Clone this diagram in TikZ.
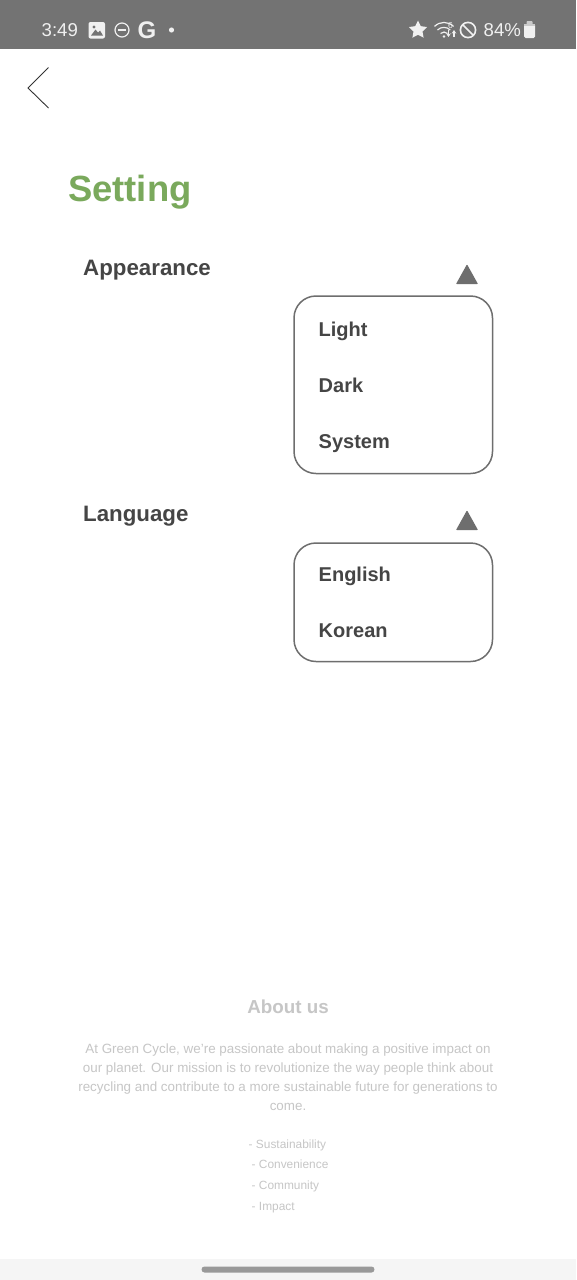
\documentclass[tikz,border=0pt]{standalone}
\usepackage{fontspec}
\setmainfont{Liberation Sans}
\usepackage{xcolor}
\usetikzlibrary{positioning, shapes.geometric, calc, arrows.meta}
\definecolor{barGrey}{HTML}{737373}
\definecolor{barText}{HTML}{F0F0F0}
\definecolor{leafGreen}{HTML}{7AA95C}
\definecolor{darkText}{HTML}{454545}
\definecolor{boxGrey}{HTML}{6E6E6E}
\definecolor{softText}{HTML}{C6C6C6}
\definecolor{navGrey}{HTML}{F5F5F5}
\tikzset{
    headlabel/.style={anchor=base west, inner sep=0pt, text=darkText, font=\fontsize{22.3}{27}\selectfont\bfseries},
    itemlabel/.style={anchor=base west, inner sep=0pt, text=darkText, font=\fontsize{20}{24}\selectfont\bfseries},
    menubox/.style={draw=boxGrey, line width=1.5pt, rounded corners=22pt, fill=white},
    uptriangle/.style={fill=boxGrey, draw=boxGrey, line width=1.2pt, line join=round},
    aboutline/.style={anchor=base, inner sep=0pt, text=softText, font=\fontsize{13.4}{17}\selectfont},
    pointline/.style={anchor=base west, inner sep=0pt, text=softText, font=\fontsize{11.9}{15}\selectfont},
    statustext/.style={anchor=base west, inner sep=0pt, text=barText, font=\fontsize{18.6}{22}\selectfont},
    wifiarc/.style={barText, line width=1.2pt},
    wifiarrow/.style={barText, line width=1.3pt, -{Stealth[length=3.5pt, width=4.5pt]}},
}
\begin{document}
\begin{tikzpicture}[x=1pt, y=-1pt]
    \useasboundingbox (0,0) rectangle (576,1280);
    \fill[white] (0,0) rectangle (576,1280);

    % status bar
    \fill[barGrey] (0,0) rectangle (576,49);
    \node[statustext] (clock) at (41.5,36) {3:49};
    \fill[barText, rounded corners=2pt] (88.5,22) rectangle (105,38.5);
    \fill[barGrey] (91,35.5) -- (95.5,29.5) -- (98,32.5) -- (100,30.5) -- (103,35.5) -- cycle;
    \fill[barGrey] (94,27) circle (1.6);
    \draw[barText, line width=1.2pt] (122,30) circle (7);
    \draw[barText, line width=1.2pt] (118,30) -- (126,30);
    \node[anchor=center, inner sep=0pt, text=barText, font=\fontsize{24}{24}\selectfont\bfseries] (glogo) at (147,30) {G};
    \fill[barText] (171.5,30) circle (2.6);
    \node[star, star points=5, star point ratio=2.0, fill=barText, inner sep=0pt, minimum size=19pt] (favstar) at (418,30) {};
    \draw[wifiarc] (434.5,26.4) arc (-135:-45:13.5);
    \draw[wifiarc] (437.5,30) arc (-135:-45:9);
    \draw[wifiarc] (440.5,33.5) arc (-135:-45:5);
    \fill[barText] (444,36.5) circle (1.3);
    \node[anchor=center, inner sep=0pt, text=barText, font=\fontsize{8.5}{9}\selectfont] (wifisix) at (450.5,25.5) {6};
    \draw[wifiarrow] (448.5,30) -- (448.5,37);
    \draw[wifiarrow] (454,37) -- (454,30);
    \draw[barText, line width=1.6pt] (468,30) circle (7.6);
    \draw[barText, line width=1.6pt] (462.6,24.6) -- (473.4,35.4);
    \node[statustext] (percent) at (483.5,36.5) {84\%};
    \fill[barText, rounded corners=1.5pt] (524,24) rectangle (535,38);
    \fill[barText!70!barGrey, rounded corners=.8pt] (526.5,21) rectangle (532.5,25);
    \fill[barText!70!barGrey] (524,24) rectangle (535,26);

    % back arrow
    \coordinate (backtop) at (48.5,67.5);
    \coordinate (backtip) at (28,88);
    \coordinate (backend) at (48.5,108);
    \draw[black!80, line width=.9pt] (backtop) -- (backtip) -- (backend);

    \node[anchor=base west, inner sep=0pt, text=leafGreen, font=\fontsize{36.4}{40}\selectfont\bfseries] (title) at (68,201) {Setting};

    % appearance
    \node[headlabel] (appearance) at (83,275.5) {Appearance};
    \draw[uptriangle] (467,265.5) -- (477,283.5) -- (457,283.5) -- cycle;
    \draw[menubox] (294,296) rectangle (492.5,473.5);
    \node[itemlabel] (light) at (318.5,336.5) {Light};
    \node[itemlabel] (dark) at (318.5,392.5) {Dark};
    \node[itemlabel] (system) at (318.5,448.5) {System};

    % language
    \node[headlabel] (language) at (83,521.5) {Language};
    \draw[uptriangle] (467,511.5) -- (477,529.5) -- (457,529.5) -- cycle;
    \draw[menubox] (294,543) rectangle (492.5,661.5);
    \node[itemlabel] (english) at (318.5,581.5) {English};
    \node[itemlabel] (korean) at (318.5,637.5) {Korean};

    % about us
    \node[anchor=base, inner sep=0pt, text=softText, font=\fontsize{18.8}{22}\selectfont\bfseries] (abouthead) at (288,1013) {About us};
    \node[aboutline] (aboutone) at (288,1053) {At Green Cycle, we're passionate about making a positive impact on};
    \node[aboutline] (abouttwo) at (288,1072) {our planet. Our mission is to revolutionize the way people think about};
    \node[aboutline] (aboutthree) at (288,1091) {recycling and contribute to a more sustainable future for generations to};
    \node[aboutline] (aboutfour) at (288,1110.5) {come.};
    \node[pointline] (pointone) at (248.5,1148) {- Sustainability};
    \node[pointline] (pointtwo) at (251.5,1168.5) {- Convenience};
    \node[pointline] (pointthree) at (251.5,1189.5) {- Community};
    \node[pointline] (pointfour) at (251.5,1210) {- Impact};

    % nav bar
    \fill[navGrey] (0,1259) rectangle (576,1280);
    \fill[black!40, rounded corners=3pt] (201.5,1266.5) rectangle (374.5,1272.5);
\end{tikzpicture}
\end{document}
